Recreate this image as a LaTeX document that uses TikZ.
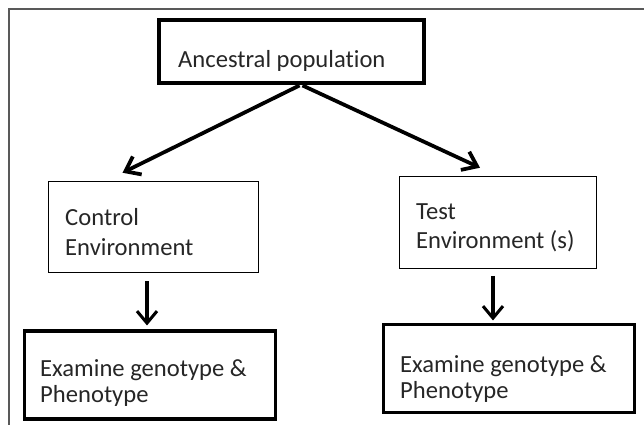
\documentclass[tikz,border=0pt]{standalone}
\usepackage{fontspec}
\setmainfont{Carlito}[Ligatures={NoCommon}]
\usetikzlibrary{positioning,arrows.meta,calc}

\begin{document}
\begin{tikzpicture}[
    x=0.03cm, y=-0.03cm,
    box/.style={rectangle, draw, line width=1.3pt, inner sep=0pt},
    thickbox/.style={rectangle, draw, line width=2.6pt, inner sep=0pt},
    topbox/.style={rectangle, draw, line width=4.2pt, inner sep=0pt},
    txt/.style={anchor=west, inner sep=0pt, align=left, text=black!85,
        font=\fontsize{21}{25}\selectfont},
    arrow/.style={-{Straight Barb[length=4mm, width=6mm]}, line width=3.2pt},
    downarrow/.style={-{Straight Barb[length=3.6mm, width=6mm]}, line width=2.6pt},
]
\useasboundingbox (0,0) rectangle (644,425);

% Frame
\draw[line width=1.6pt, black!65] (9,430) -- (9,9) -- (650,9);

% ====== Top ======
\node[topbox, minimum width=7.95cm, minimum height=1.89cm] (anc) at (291.5,51.5) {};
\node[txt] (anctxt) at (178,61) {Ancestral population};

% ====== Environments ======
\node[box, minimum width=6.3cm, minimum height=2.73cm] (ctrl) at (153.5,227) {};
\node[txt] (ctrltxt) at (65,232) {Control\\Environment};

\node[box, minimum width=5.91cm, minimum height=2.76cm] (test) at (498,222.5) {};
\node[txt] (testtxt) at (416,228) {Test\\Environment (s)};

\draw[arrow] ($(anc.south)+(8,0)$) -- ($(ctrl.north)+(-31,-8)$);
\draw[arrow] ($(anc.south)+(11,0)$) -- ($(test.north)+(-18,-8)$);

% ====== Examine ======
\node[thickbox, minimum width=7.53cm, minimum height=2.64cm] (exL) at (150,375) {};
\node[txt, font=\fontsize{21}{22.5}\selectfont] (exLtxt) at (40,383) {Examine genotype \&\\Phenotype};

\node[thickbox, minimum width=7.53cm, minimum height=2.64cm] (exR) at (509,368.5) {};
\node[txt, font=\fontsize{21}{22.5}\selectfont] (exRtxt) at (400,379) {Examine genotype \&\\Phenotype};

\draw[downarrow] ($(ctrl.south)+(-6.5,8)$) -- ($(exL.north)+(-3,-4)$);
\draw[downarrow] ($(test.south)+(-5,6.5)$) -- ($(exR.north)+(-16,-2.5)$);

\end{tikzpicture}
\end{document}
